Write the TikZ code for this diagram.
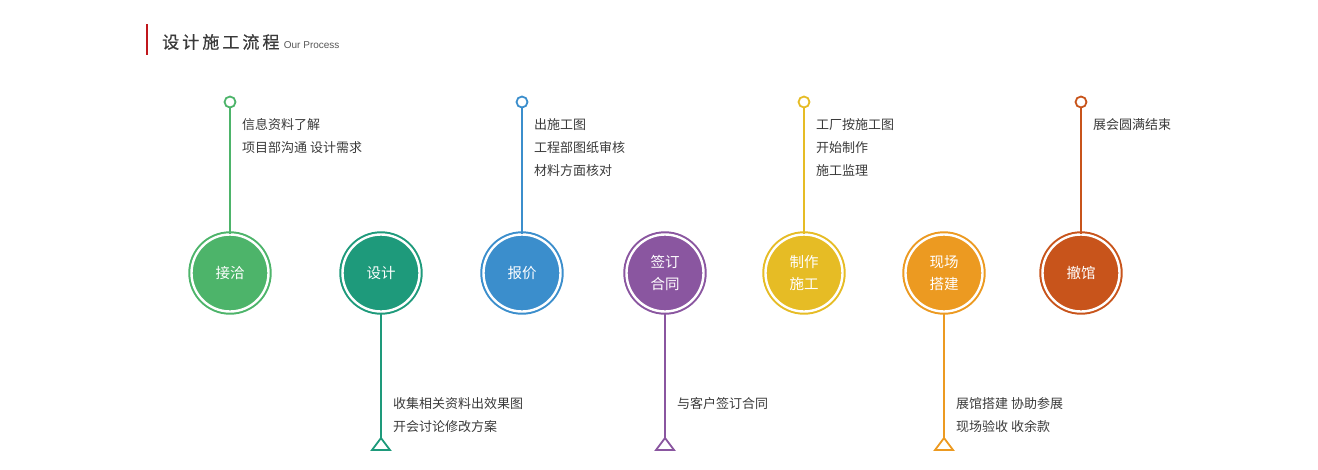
\documentclass[tikz,border=0pt]{standalone}
\usepackage{fontspec}
\usepackage{xcolor}
\usepackage{tikz}
\usetikzlibrary{positioning}
\setmainfont{Noto Sans CJK SC}
\newfontfamily\headfont[LetterSpace=18,FakeBold=0.6]{Noto Sans CJK SC}
\newfontfamily\latinfont{Liberation Sans}
\definecolor{ink}{HTML}{3A3A3A}
\definecolor{accent}{HTML}{C0171C}
\definecolor{leaf}{HTML}{4DB46A}
\definecolor{jade}{HTML}{1E9A7B}
\definecolor{sky}{HTML}{3B8ECC}
\definecolor{plum}{HTML}{8A56A0}
\definecolor{amber}{HTML}{E6BC25}
\definecolor{tangerine}{HTML}{EC9A21}
\definecolor{rust}{HTML}{C8541B}
\tikzset{
  bar/.style={draw=accent, line width=2.4pt},
  headline/.style={text=ink, font=\headfont\fontsize{17}{17}\selectfont, inner sep=0pt},
  headsub/.style={text=ink!85, font=\latinfont\fontsize{10}{10}\selectfont, inner sep=0pt},
  stepnode/.style={circle, draw=#1, fill=#1, line width=2pt, double=white, double distance=2.4pt,
    minimum size=77pt, inner sep=0pt, text=white, align=center,
    font=\fontsize{14.5}{22}\selectfont},
  topdot/.style={circle, draw=#1, fill=white, line width=1.8pt, minimum size=11pt, inner sep=0pt},
  stem/.style={draw=#1, line width=1.8pt},
  tip/.style={draw=#1, line width=1.8pt, line join=miter},
  note/.style={text=ink, font=\fontsize{13}{23}\selectfont, align=left, inner sep=0pt, anchor=north west},
}
\begin{document}
\begin{tikzpicture}[x=1pt,y=-1pt]
  \useasboundingbox (0,0) rectangle (1318,469);
  % title
  \draw[bar] (147,24) -- (147,55);
  \node[headline, anchor=west] (head) at (162,42) {设计施工流程};
  \node[headsub, right=4pt of head.base east, anchor=base west] (sub) {Our Process};
  % steps
  \foreach \n/\x/\c/\name in {1/230/leaf/接洽, 2/381/jade/设计, 3/522/sky/报价,
      4/665/plum/{签订\\合同}, 5/804/amber/{制作\\施工}, 6/944/tangerine/{现场\\搭建}, 7/1081/rust/撤馆}
    \node[stepnode=\c] (step\n) at (\x,273) {\name};
  % upper notes
  \foreach \n/\x/\c/\txt in {1/230/leaf/{信息资料了解\\项目部沟通 设计需求},
      3/522/sky/{出施工图\\工程部图纸审核\\材料方面核对},
      5/804/amber/{工厂按施工图\\开始制作\\施工监理},
      7/1081/rust/{展会圆满结束}} {
    \node[topdot=\c] (dot\n) at (\x,102) {};
    \draw[stem=\c] (dot\n) -- (step\n);
    \node[note] (note\n) at (\x+12,118) {\txt};
  }
  % lower notes
  \foreach \n/\x/\c/\txt in {2/381/jade/{收集相关资料出效果图\\开会讨论修改方案},
      4/665/plum/{与客户签订合同},
      6/944/tangerine/{展馆搭建 协助参展\\现场验收 收余款}} {
    \coordinate (tip\n) at (\x,438);
    \draw[stem=\c] (step\n) -- (tip\n);
    \draw[tip=\c] (tip\n) -- ++(9,12) -- ++(-18,0) -- cycle;
    \node[note] (note\n) at (\x+12,397) {\txt};
  }
\end{tikzpicture}
\end{document}
